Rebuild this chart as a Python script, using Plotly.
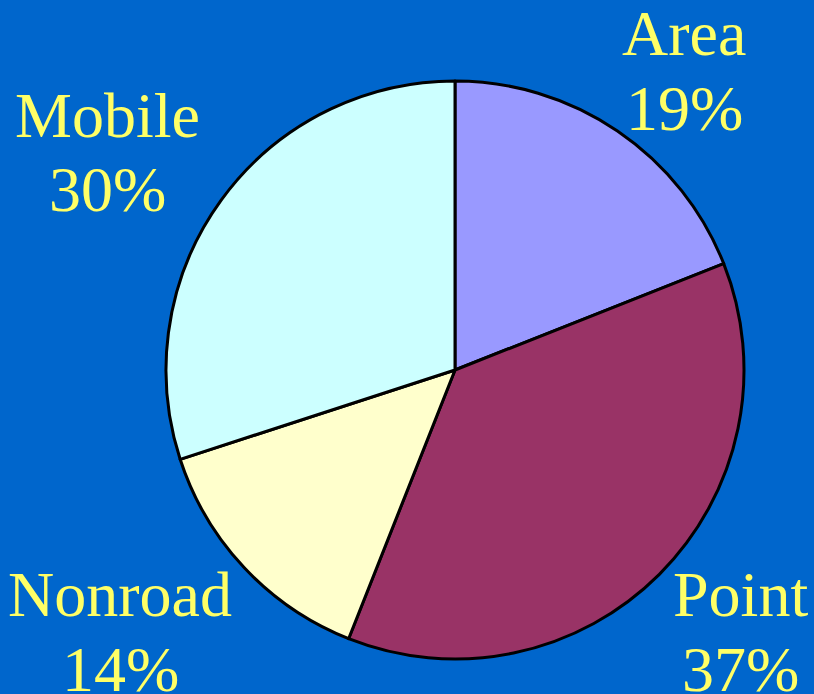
import plotly.graph_objects as go

categories = ["Area", "Point", "Nonroad", "Mobile"]
values = [19, 37, 14, 30]
colors = ["#9999FF", "#993366", "#FFFFCC", "#CCFFFF"]

W, H = 814, 694
label_pos = {
    "Area": (684, 33, 109),
    "Point": (740, 594, 669),
    "Nonroad": (120, 594, 669),
    "Mobile": (107, 115, 189),
}

fig = go.Figure(go.Pie(
    labels=categories, values=values, sort=False, direction="clockwise",
    rotation=0, marker=dict(colors=colors, line=dict(color="black", width=3)),
    textinfo="none", hoverinfo="label+percent", showlegend=False,
    domain=dict(x=[166 / W, 744 / W], y=[1 - 659 / H, 1 - 81 / H]),
))

ann = []
for c, v in zip(categories, values):
    x, y1, y2 = label_pos[c]
    for txt, y in ((c, y1), (f"{v}%", y2)):
        ann.append(dict(text=txt, x=x / W, y=1 - y / H, xref="paper", yref="paper",
                        xanchor="center", yanchor="middle", showarrow=False,
                        font=dict(family="Liberation Serif", size=64, color="#FFFF66")))

fig.update_layout(width=W, height=H, margin=dict(l=0, r=0, t=0, b=0),
                  paper_bgcolor="#0066CC", plot_bgcolor="#0066CC", annotations=ann)
fig.write_html("out.html", config={"displayModeBar": False})

with open("out.html", "r", encoding="utf-8") as f:
    html = f.read()
html = html.replace("<body>", '<body style="margin:0;padding:0;overflow:hidden;background:#0066CC">', 1)
with open("out.html", "w", encoding="utf-8") as f:
    f.write(html)
